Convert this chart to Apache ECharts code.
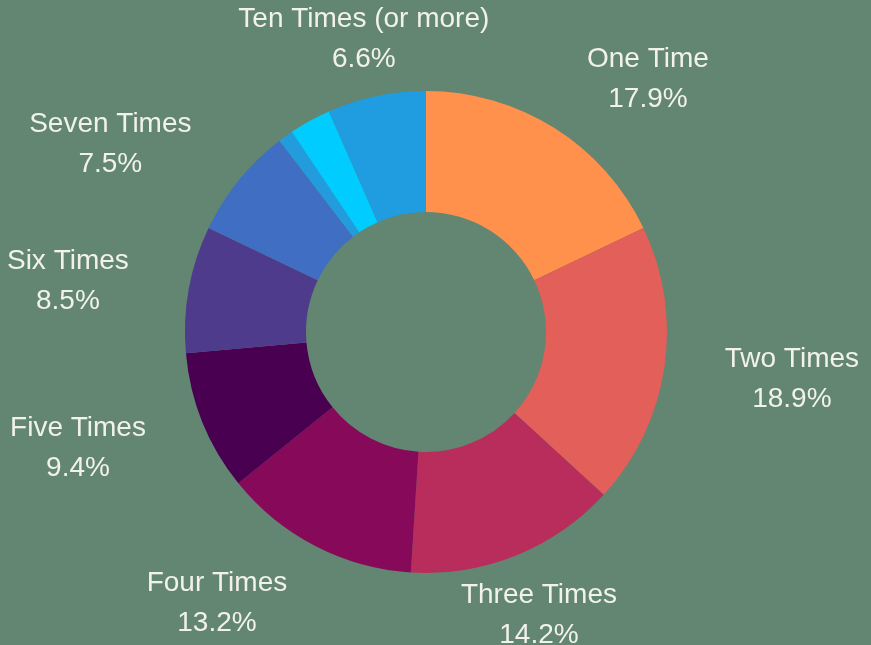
<!DOCTYPE html>
<html>
<head>
<meta charset="utf-8">
<script src="https://cdn.jsdelivr.net/npm/echarts@6/dist/echarts.min.js"></script>
<style>
html,body{margin:0;padding:0;background:#628672;}
#chart{width:871px;height:645px;}
</style>
</head>
<body>
<div id="chart"></div>
<script>
const categories = ["One Time","Two Times","Three Times","Four Times","Five Times","Six Times","Seven Times","Eight Times","Nine Times","Ten Times (or more)"];
const values = [17.9, 18.9, 14.2, 13.2, 9.4, 8.5, 7.5, 1.0, 2.8, 6.6];
const showLabel = [true, true, true, true, true, true, true, false, false, true];
const colors = ["#FF914D","#E35F59","#B92D5D","#870A5A","#4A0050","#4E3B8C","#3F6EC3","#239CDE","#00CCFF","#1F9DE0"];

const CENTER = [426, 332];
const LABEL_R = 302;
const total = values.reduce((a, b) => a + b, 0);

function midAngle(i) {
  let cum = 0;
  for (let k = 0; k < i; k++) cum += values[k];
  return (cum + values[i] / 2) / total * Math.PI * 2;
}

const chart = echarts.init(document.getElementById('chart'), null, {renderer: 'canvas'});
chart.setOption({
  backgroundColor: '#628672',
  animation: false,
  series: [{
    type: 'pie',
    center: CENTER,
    radius: [120, 241],
    startAngle: 90,
    clockwise: true,
    avoidLabelOverlap: false,
    minShowLabelAngle: 0,
    label: {
      show: true,
      position: 'outside',
      formatter: '{b}\n{c}%',
      color: '#F2F2EA',
      fontFamily: 'Liberation Sans, Arial, sans-serif',
      fontSize: 28,
      lineHeight: 40,
      align: 'center'
    },
    labelLine: {show: false},
    labelLayout: function (params) {
      const i = params.dataIndex;
      const a = midAngle(i);
      const s = Math.sin(a), c = Math.cos(a);
      let x = CENTER[0] + LABEL_R * s;
      const y = CENTER[1] - LABEL_R * c + 3;
      const w = params.labelRect ? params.labelRect.width : 0;
      if (s > 0.45) x += w / 2;
      else if (s < -0.45) x -= w / 2;
      return {x: x, y: y, align: 'center', verticalAlign: 'middle'};
    },
    itemStyle: {borderWidth: 0},
    emphasis: {disabled: true},
    data: categories.map((name, i) => ({
      name: name,
      value: values[i],
      itemStyle: {color: colors[i]},
      label: {show: showLabel[i]}
    }))
  }]
});
</script>
</body>
</html>
